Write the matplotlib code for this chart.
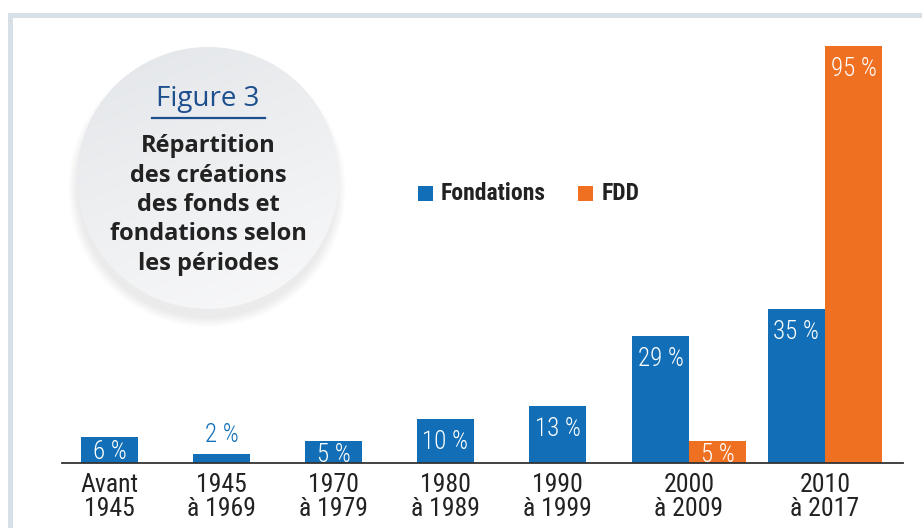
import numpy as np
import matplotlib
matplotlib.use("Agg")
import matplotlib.pyplot as plt
from matplotlib import font_manager as fm
from matplotlib.colors import LinearSegmentedColormap
from matplotlib.patches import Circle, Rectangle

# Data
periodes = ["Avant\n1945", "1945\nà 1969", "1970\nà 1979", "1980\nà 1989",
            "1990\nà 1999", "2000\nà 2009", "2010\nà 2017"]
fondations = [6, 2, 5, 10, 13, 29, 35]
fdd = [None, None, None, None, None, 5, 95]
legende = ["Fondations", "FDD"]

# Layout (group centres, in units of the regular group spacing)
positions = [0, 1, 2, 3, 4, 5.174, 6.388]
bar_w = 0.509

BLUE = "#126fb7"
ORANGE = "#f07022"
FRAME = "#d7e0e6"

available = {f.name for f in fm.fontManager.ttflist}


def pick(cands):
    for c in cands:
        if c in available:
            return [c, "DejaVu Sans"]
    return ["DejaVu Sans"]


NARROW = pick(["Roboto Condensed", "Fira Sans Condensed", "PT Sans Narrow",
               "Archivo Narrow", "Sofia Sans Condensed", "Liberation Sans Narrow"])
ROUND = pick(["Open Sans", "Lato"])

W, H = 922, 528
fig = plt.figure(figsize=(W / 100, H / 100), dpi=100)

# background layer in pixel coordinates
bg = fig.add_axes([0, 0, 1, 1], zorder=0)
bg.set_xlim(0, W)
bg.set_ylim(H, 0)
bg.axis("off")

# frame lines (top and left)
bg.add_patch(Rectangle((8, 13), W, 5, color=FRAME, lw=0))
bg.add_patch(Rectangle((8, 13), 5, H, color=FRAME, lw=0))

# circle with soft shadow
cx, cy, r = 208, 178, 131
for i in range(10):
    bg.add_patch(Circle((cx - 1, cy + 10), r + 8 - i, color="#000000",
                        alpha=0.006, lw=0))
circ = Circle((cx, cy), r, facecolor="none", lw=0)
bg.add_patch(circ)
yy, xx = np.mgrid[0:1:200j, 0:1:200j]
grad = 0.7 * yy + 0.3 * xx
img = bg.imshow(grad, cmap=LinearSegmentedColormap.from_list(
    "c", ["#e3e6e9", "#f9f9fa"]), extent=(cx - r, cx + r, cy + r, cy - r),
    origin="upper", zorder=1, interpolation="bilinear")
img.set_clip_path(circ)

bg.text(cx, 99, "Figure 3", ha="center", va="center", fontsize=20,
        color="#1d4f8f", family=ROUND, zorder=3)
bg.plot([152, 265], [118, 118], color="#1d4f8f", lw=1.6, zorder=3)
titre = ["Répartition", "des créations", "des fonds et",
         "fondations selon", "les périodes"]
for i, ligne in enumerate(titre):
    bg.text(cx, 146 + i * 29.5, ligne, ha="center", va="center",
            fontsize=17, fontweight="bold", color="#222222",
            family=ROUND, zorder=3)

# bar chart
ax = fig.add_axes([62 / W, 65 / H, 841 / W, 439 / H], zorder=2)
ax.patch.set_alpha(0)
x = np.array(positions)
f_vals = np.array(fondations, dtype=float)
has_fdd = np.array([v is not None for v in fdd])
d_vals = np.array([v if v is not None else 0 for v in fdd], dtype=float)

blue_x = np.where(has_fdd, x - bar_w / 2, x)
orange_x = x + bar_w / 2
ax.bar(blue_x, f_vals, width=bar_w, color=BLUE, zorder=2)
ax.bar(orange_x[has_fdd], d_vals[has_fdd], width=bar_w, color=ORANGE, zorder=2)


def label(xp, v):
    txt = f"{v:g} %"
    style = dict(fontsize=18, family=NARROW, fontweight="light", ha="center")
    if v < 4:
        ax.annotate(txt, (xp, v), xytext=(0, 5), textcoords="offset points",
                    va="bottom", color=BLUE, **style)
    elif v < 8:
        ax.text(xp, v / 2 - 0.6, txt, va="center", color="white",
                zorder=3, **style)
    else:
        ax.annotate(txt, (xp, v), xytext=(0, -8), textcoords="offset points",
                    va="top", color="white", zorder=3, **style)


for xp, v in zip(blue_x, f_vals):
    label(xp, v)
for xp, v in zip(orange_x[has_fdd], d_vals[has_fdd]):
    label(xp, v)

ax.set_xlim(-0.424, 7.085)
ax.set_ylim(0, 100)
ax.set_xticks(x)
ax.set_xticklabels(periodes, fontsize=18.5, family=NARROW, color="#222222",
                   linespacing=1.0)
ax.tick_params(axis="x", length=0, pad=7)
ax.set_yticks([])
for s in ["top", "left", "right"]:
    ax.spines[s].set_visible(False)
ax.spines["bottom"].set_color("#333333")
ax.spines["bottom"].set_linewidth(1.3)

# legend
for (lx, tx, name, col) in [(418, 441, legende[0], BLUE), (578, 602, legende[1], ORANGE)]:
    bg.add_patch(Rectangle((lx, 186), 15, 15, color=col, lw=0, zorder=3))
    bg.text(tx, 194, name, ha="left", va="center", fontsize=17,
            fontweight="bold", family=NARROW, color="#222222", zorder=3)

fig.savefig("out.png", dpi=100)
